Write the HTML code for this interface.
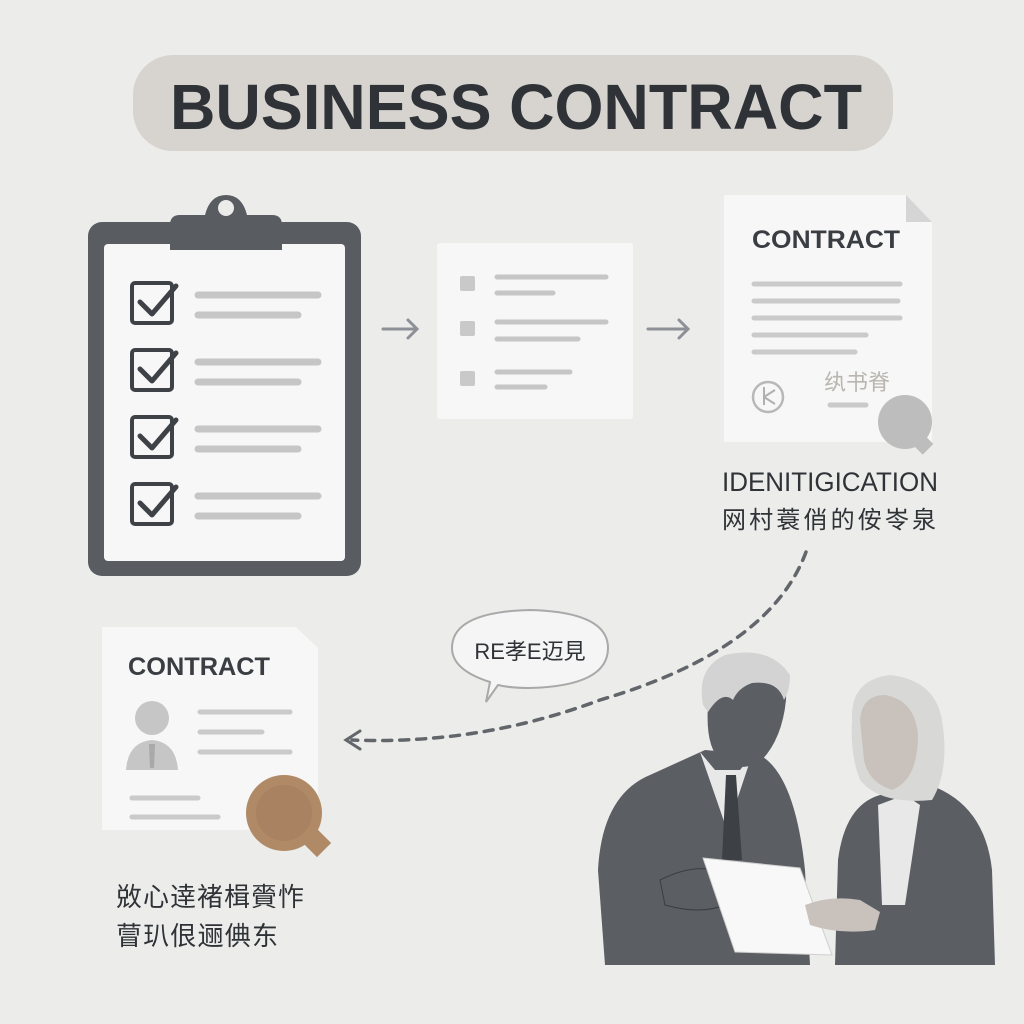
<!DOCTYPE html>
<html><head><meta charset="utf-8"><style>
html,body{margin:0;padding:0;background:#ececeb;}
svg{display:block}
text{font-family:"Liberation Sans","Noto Sans CJK SC",sans-serif;}
</style></head><body>
<svg width="1024" height="1024" viewBox="0 0 1024 1024" xmlns="http://www.w3.org/2000/svg">
<rect width="1024" height="1024" fill="#ececeb"/>
<!-- title -->
<rect x="133" y="55" width="760" height="96" rx="40" fill="#d7d4cf"/>
<text x="170" y="129" font-size="64" font-weight="bold" fill="#2f3338" textLength="692" lengthAdjust="spacingAndGlyphs">BUSINESS CONTRACT</text>

<!-- clipboard -->
<rect x="88" y="222" width="273" height="354" rx="14" fill="#595c61"/>
<rect x="104" y="244" width="241" height="317" rx="4" fill="#f7f7f7"/>
<path d="M170 250 L170 225 Q170 215 180 215 L205 215 Q210 195 226 195 Q242 195 247 215 L272 215 Q282 215 282 225 L282 250 Z" fill="#595c61"/>
<circle cx="226" cy="208" r="8" fill="#ececeb"/>
<g fill="none" stroke="#3e4146" stroke-width="4">
<rect x="132" y="283" width="40" height="40" rx="3"/>
<rect x="132" y="350" width="40" height="40" rx="3"/>
<rect x="132" y="417" width="40" height="40" rx="3"/>
<rect x="132" y="484" width="40" height="40" rx="3"/>
</g>
<g fill="none" stroke="#3e4146" stroke-width="5" stroke-linecap="round" stroke-linejoin="round">
<path d="M140 302 L152 314 L176 286"/>
<path d="M140 369 L152 381 L176 353"/>
<path d="M140 436 L152 448 L176 420"/>
<path d="M140 503 L152 515 L176 487"/>
</g>
<g stroke="#c6c6c6" stroke-width="7" stroke-linecap="round">
<line x1="198" y1="295" x2="318" y2="295"/><line x1="198" y1="315" x2="298" y2="315"/>
<line x1="198" y1="362" x2="318" y2="362"/><line x1="198" y1="382" x2="298" y2="382"/>
<line x1="198" y1="429" x2="318" y2="429"/><line x1="198" y1="449" x2="298" y2="449"/>
<line x1="198" y1="496" x2="318" y2="496"/><line x1="198" y1="516" x2="298" y2="516"/>
</g>

<!-- arrows -->
<g stroke="#8d9096" stroke-width="3" fill="none" stroke-linecap="round">
<path d="M383 329 L417 329 M408 320 L417 329 L408 338"/>
<path d="M648 329 L688 329 M679 320 L688 329 L679 338"/>
</g>

<!-- middle card -->
<rect x="437" y="243" width="196" height="176" rx="3" fill="#f7f7f7"/>
<g fill="#c9c9c9"><rect x="460" y="276" width="15" height="15" rx="2"/><rect x="460" y="321" width="15" height="15" rx="2"/><rect x="460" y="371" width="15" height="15" rx="2"/></g>
<g stroke="#c6c6c6" stroke-width="5" stroke-linecap="round">
<line x1="497" y1="277" x2="606" y2="277"/><line x1="497" y1="293" x2="553" y2="293"/>
<line x1="497" y1="322" x2="606" y2="322"/><line x1="497" y1="339" x2="578" y2="339"/>
<line x1="497" y1="372" x2="570" y2="372"/><line x1="497" y1="387" x2="545" y2="387"/>
</g>

<!-- right contract doc -->
<path d="M724 195 L906 195 L932 222 L932 442 L724 442 Z" fill="#f7f7f7"/>
<path d="M906 195 L906 222 L932 222 Z" fill="#d5d5d5"/>
<text x="752" y="248" font-size="25" font-weight="bold" fill="#3a3d42" textLength="148" lengthAdjust="spacingAndGlyphs">CONTRACT</text>
<g stroke="#cacaca" stroke-width="5" stroke-linecap="round">
<line x1="754" y1="284" x2="900" y2="284"/><line x1="754" y1="301" x2="898" y2="301"/>
<line x1="754" y1="318" x2="900" y2="318"/><line x1="754" y1="335" x2="866" y2="335"/>
<line x1="754" y1="352" x2="855" y2="352"/><line x1="830" y1="405" x2="866" y2="405"/>
</g>
<circle cx="768" cy="397" r="15" fill="none" stroke="#b8b8b8" stroke-width="2.5"/>
<path d="M764 387 L764 405 M764 397 L775 390 M764 397 L775 404" stroke="#b0b0b0" stroke-width="2" fill="none"/>
<text x="824" y="390" font-size="22" fill="#b9b6b0">纨书脊</text>
<circle cx="905" cy="422" r="27" fill="#bdbdbd"/>
<rect x="915" y="436" width="15" height="15" transform="rotate(45 922 444)" fill="#bdbdbd"/>
<text x="722" y="491" font-size="27" fill="#2f3236" textLength="216" lengthAdjust="spacingAndGlyphs">IDENITIGICATION</text>
<text x="722" y="528" font-size="24" fill="#2f3236" textLength="214">网村蓑俏的侒岺泉</text>

<!-- dashed curve -->
<path d="M806 552 Q770 650 600 700 Q480 745 352 740" fill="none" stroke="#62666b" stroke-width="3.5" stroke-dasharray="9 8" stroke-linecap="round"/>
<path d="M360 731 L346 740 L360 749" fill="none" stroke="#62666b" stroke-width="3" stroke-linecap="round"/>

<!-- bubble -->
<path d="M490 682 Q452 670 452 648 Q452 612 530 610 Q608 612 608 648 Q608 686 530 688 Q510 688 498 685 L486 702 Z" fill="#f5f5f5" stroke="#a9a9a9" stroke-width="2"/>
<text x="530" y="659" text-anchor="middle" font-size="22" fill="#2f3236">RE孝E迈見</text>

<!-- bottom-left doc -->
<path d="M102 627 L296 627 L318 648 L318 830 L102 830 Z" fill="#f7f7f7"/>
<text x="128" y="675" font-size="25" font-weight="bold" fill="#3a3d42" textLength="142" lengthAdjust="spacingAndGlyphs">CONTRACT</text>
<circle cx="152" cy="718" r="17" fill="#c6c6c6"/>
<path d="M126 770 Q128 742 152 740 Q176 742 178 770 Z" fill="#c6c6c6"/>
<path d="M149 744 L155 744 L154 768 L150 768 Z" fill="#a9a9a9"/>
<g stroke="#cacaca" stroke-width="5" stroke-linecap="round">
<line x1="200" y1="712" x2="290" y2="712"/><line x1="200" y1="732" x2="262" y2="732"/>
<line x1="200" y1="752" x2="290" y2="752"/><line x1="132" y1="798" x2="198" y2="798"/>
<line x1="132" y1="817" x2="218" y2="817"/>
</g>
<circle cx="284" cy="813" r="38" fill="#b08a66"/>
<circle cx="284" cy="813" r="28" fill="#a98261"/>
<rect x="307" y="833" width="20" height="20" transform="rotate(45 317 843)" fill="#b08a66"/>
<text x="116" y="906" font-size="26" fill="#2f3236" textLength="188">敚心逹褚楫賫怍</text>
<text x="116" y="945" font-size="26" fill="#2f3236" textLength="162">萺玐佷逦倎东</text>

<!-- man body -->
<path d="M605 965 L598 870 Q602 795 650 775 L705 750 L760 755 Q795 775 805 870 L810 965 Z" fill="#5b5e63"/>
<path d="M700 752 L727 830 L752 755 L740 770 L715 770 Z" fill="#e8e8e8"/>
<path d="M726 775 L736 775 L742 860 L722 860 Z" fill="#3d4045"/>
<!-- man head -->
<path d="M708 705 Q705 748 722 762 Q740 772 760 762 Q782 740 786 700 Q788 665 748 662 Q712 665 708 705 Z" fill="#5b5e63"/>
<path d="M703 705 Q696 668 725 655 Q770 645 790 675 Q790 690 784 700 Q778 680 752 683 Q738 688 733 700 Q722 690 708 712 Z" fill="#d3d3d3"/>
<path d="M660 880 Q700 860 725 875 L725 905 Q700 915 665 905 Z" fill="#5b5e63" stroke="#3a3d42" stroke-width="1"/>
<!-- paper -->
<path d="M703 858 L800 868 L832 955 L735 952 Z" fill="#f8f8f8" stroke="#cfcfcf"/>
<!-- woman -->
<path d="M835 965 L838 860 Q845 805 880 795 L930 785 Q985 805 992 870 L995 965 Z" fill="#5b5e63"/>
<path d="M878 805 L905 795 L920 805 L905 905 L882 905 Z" fill="#e8e8e8"/>
<path d="M852 720 Q850 680 890 675 Q935 680 942 720 Q950 770 932 800 Q880 805 860 780 Q850 755 852 720 Z" fill="#d8d8d6"/>
<path d="M860 720 Q862 695 885 695 Q915 700 918 735 Q918 780 892 790 Q868 782 864 760 Z" fill="#c9c2bc"/>
<path d="M805 905 Q830 895 860 900 L880 912 L875 930 Q840 935 810 925 Z" fill="#c9c2bc"/>
</svg>
</body></html>
